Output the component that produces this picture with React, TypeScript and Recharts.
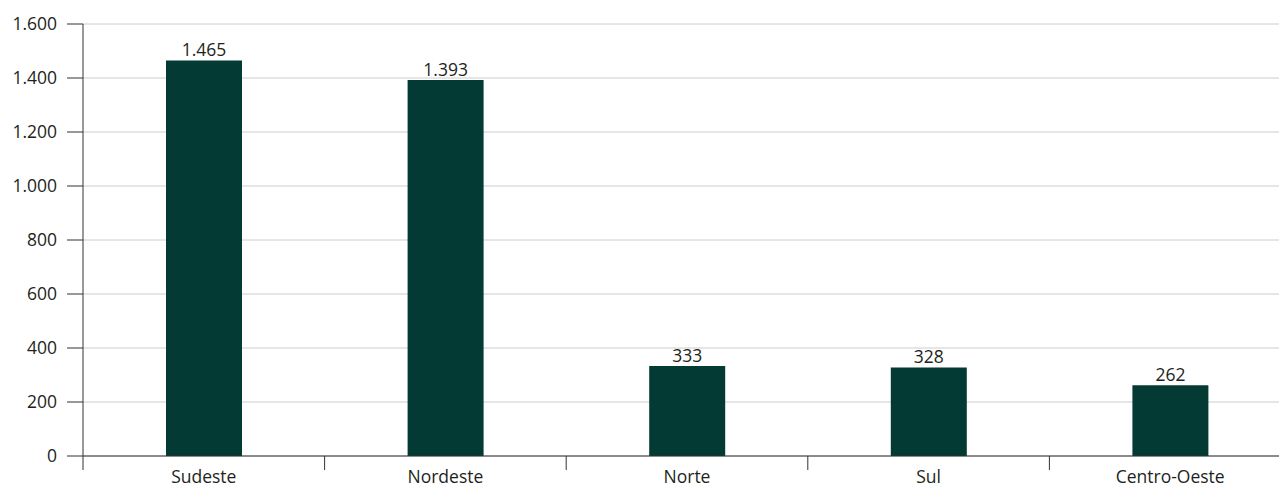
import { Bar, BarChart, CartesianGrid, LabelList, XAxis, YAxis } from 'recharts';

const regions = ['Sudeste', 'Nordeste', 'Norte', 'Sul', 'Centro-Oeste'];
const totals = [1465, 1393, 333, 328, 262];
const yTicks = [0, 200, 400, 600, 800, 1000, 1200, 1400, 1600];

const data = regions.map((region, i) => ({ region, total: totals[i] }));

const CHART_W = 1291;
const CHART_H = 487;
const AXIS_W = 83;
const BAND = (CHART_W - AXIS_W) / regions.length;
const FONT = '"Open Sans", sans-serif';
const TEXT = '#231f20';
const SIZE = 17.5;

const fmt = (v: number) => String(v).replace(/\B(?=(\d{3})+(?!\d))/g, '.');

function RegionTick(props: any) {
  const { x, y, payload } = props;
  const left = x - BAND / 2;
  return (
    <g>
      <line x1={left} y1={y} x2={left} y2={y + 14} stroke="#333" strokeWidth={1} />
      <text
        x={x}
        y={y + 22}
        textAnchor="middle"
        dominantBaseline="middle"
        fill={TEXT}
        fontSize={SIZE}
        fontFamily={FONT}
      >
        {payload.value}
      </text>
    </g>
  );
}

export default function App() {
  return (
    <div
      style={{
        position: 'fixed',
        left: 0,
        top: 0,
        width: 1279,
        height: CHART_H,
        overflow: 'hidden',
        background: '#fff',
      }}
    >
      <BarChart
        width={CHART_W}
        height={CHART_H}
        data={data}
        margin={{ top: 24, right: 0, left: 0, bottom: 0 }}
        barSize={76}
      >
        <CartesianGrid stroke="#cccccc" vertical={false} />
        <XAxis
          dataKey="region"
          height={31}
          axisLine={{ stroke: '#333' }}
          tickLine={false}
          tickSize={0}
          tickMargin={0}
          tick={<RegionTick />}
          interval={0}
        />
        <YAxis
          width={AXIS_W}
          domain={[0, 1600]}
          ticks={yTicks}
          tickFormatter={fmt}
          axisLine={{ stroke: '#333' }}
          tickLine={{ stroke: '#333' }}
          tickSize={16}
          tickMargin={10}
          tick={{ fill: TEXT, fontSize: SIZE, fontFamily: FONT }}
        />
        <Bar dataKey="total" fill="#033a33" isAnimationActive={false}>
          <LabelList
            dataKey="total"
            position="top"
            offset={4}
            formatter={(v: any) => fmt(Number(v))}
            fill={TEXT}
            fontSize={SIZE}
            fontFamily={FONT}
          />
        </Bar>
      </BarChart>
    </div>
  );
}
